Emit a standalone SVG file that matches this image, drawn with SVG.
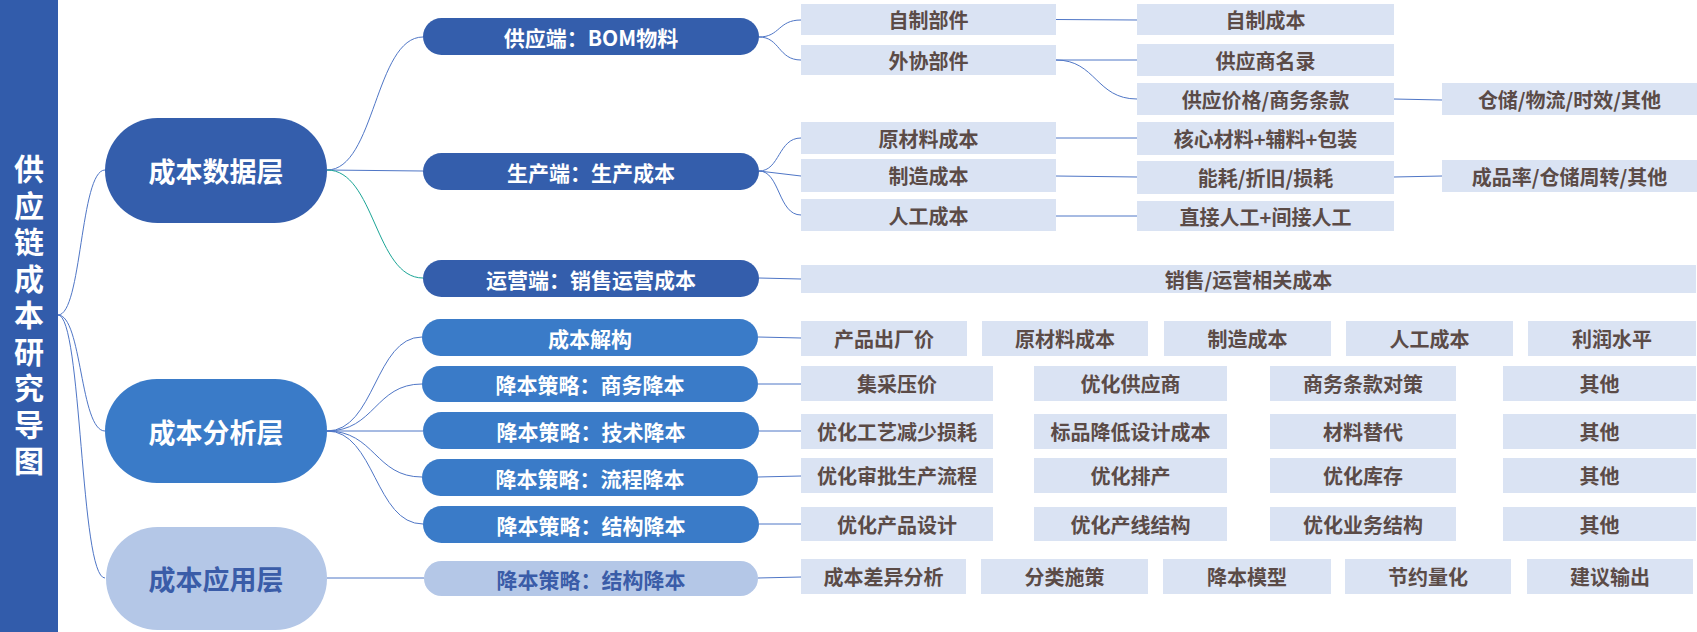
<svg xmlns="http://www.w3.org/2000/svg" width="1697" height="632" viewBox="0 0 1697 632">
<style>
text{font-family:"Noto Sans CJK SC","Noto Sans",sans-serif;font-weight:bold;text-anchor:middle;dominant-baseline:central}
.t{fill:#fff;font-size:30px;writing-mode:vertical-rl;letter-spacing:6.5px}
.l1{fill:#345EAC}.l2{fill:#3A7BC8}.l3{fill:#B4C7E7}
.lt{fill:#fff;font-size:27px}.lt3{fill:#3A5CA8;font-size:27px}
.nt{fill:#fff;font-size:21px}.nt3{fill:#3A5CA8;font-size:21px}
.b{fill:#DAE3F3}
.bt{fill:#5B4B47;font-size:20px}
.c{fill:none;stroke:#4F76C6;stroke-width:1}
.g{fill:none;stroke:#1BA596;stroke-width:1}
</style>
<rect x="0" y="0" width="58" height="632" fill="#325CAB"/>
<g id="title">
<text class="t" x="29" y="318">供应链成本研究导图</text>
</g>
<g id="connectors">
<path class="c" d="M58,315 C82,315 80,170 105,170"/>
<path class="c" d="M58,315 C82,315 80,431 105,431"/>
<path class="c" d="M58,315 C82,315 80,578 105,578"/>
<path class="c" d="M327,170 C375,170 375,37 423,37"/>
<path class="c" d="M327,170 L423,171"/>
<path class="g" d="M327,170 C375,170 375,278 423,278"/>
<path class="c" d="M327,431 C375,431 375,337 422,337"/>
<path class="c" d="M327,431 C375,431 375,384 422,384"/>
<path class="c" d="M327,431 L423,431"/>
<path class="c" d="M327,431 C375,431 375,477 422,477"/>
<path class="c" d="M327,431 C375,431 375,524 423,524"/>
<path class="c" d="M327,578 L424,578"/>
<path class="c" d="M759,37 C780,37 778,20 801,20"/>
<path class="c" d="M759,37 C780,37 778,60 801,60"/>
<path class="c" d="M1056,19.5 L1137,20"/>
<path class="c" d="M1056,60 L1137,60"/>
<path class="c" d="M1056,60 C1096,60 1096,99 1137,99"/>
<path class="c" d="M1394,99 L1442,100"/>
<path class="c" d="M759,171 C780,171 778,138 801,138"/>
<path class="c" d="M759,171 L801,176"/>
<path class="c" d="M759,171 C780,171 778,215 801,215"/>
<path class="c" d="M1056,138 L1137,138"/>
<path class="c" d="M1056,176 L1137,177"/>
<path class="c" d="M1056,216 L1137,216"/>
<path class="c" d="M1394,177 L1442,176"/>
<path class="c" d="M759,278 L801,279"/>
<path class="c" d="M758,337 L801,338"/>
<path class="c" d="M758,384 L801,384"/>
<path class="c" d="M759,431 L801,431"/>
<path class="c" d="M758,477 L801,476"/>
<path class="c" d="M759,524 L801,524"/>
<path class="c" d="M758,578 L801,577"/>
</g>
<g id="layer-data"><rect class="l1" x="105" y="118" width="222" height="105" rx="52.5"/><text class="lt" x="216" y="170">成本数据层</text></g>
<g id="layer-analysis"><rect class="l2" x="105" y="379" width="222" height="104" rx="52"/><text class="lt" x="216" y="431">成本分析层</text></g>
<g id="layer-apply"><rect class="l3" x="106" y="527" width="221" height="103" rx="51.5"/><text class="lt3" x="216" y="578">成本应用层</text></g>

<g id="n-supply"><rect class="l1" x="423" y="18" width="336" height="37" rx="18.5"/><text class="nt" x="591" y="36.5">供应端：BOM物料</text></g>
<g id="n-prod"><rect class="l1" x="423" y="153" width="336" height="37" rx="18.5"/><text class="nt" x="591" y="171.5">生产端：生产成本</text></g>
<g id="n-ops"><rect class="l1" x="423" y="260" width="336" height="37" rx="18.5"/><text class="nt" x="591" y="278.5">运营端：销售运营成本</text></g>
<g id="n-decon"><rect class="l2" x="422" y="319" width="336" height="37" rx="18.5"/><text class="nt" x="590" y="337.5">成本解构</text></g>
<g id="n-biz"><rect class="l2" x="422" y="366" width="336" height="36" rx="18"/><text class="nt" x="590" y="384">降本策略：商务降本</text></g>
<g id="n-tech"><rect class="l2" x="423" y="412" width="336" height="37" rx="18.5"/><text class="nt" x="591" y="430.5">降本策略：技术降本</text></g>
<g id="n-flow"><rect class="l2" x="422" y="459" width="336" height="37" rx="18.5"/><text class="nt" x="590" y="477.5">降本策略：流程降本</text></g>
<g id="n-struct"><rect class="l2" x="423" y="506" width="336" height="37" rx="18.5"/><text class="nt" x="591" y="524.5">降本策略：结构降本</text></g>
<g id="n-apply"><rect class="l3" x="424" y="561" width="334" height="35" rx="17.5"/><text class="nt3" x="591" y="578.5">降本策略：结构降本</text></g>

<g id="b-zizhi"><rect class="b" x="801" y="4" width="255" height="31"/><text class="bt" x="928.5" y="19.5">自制部件</text></g>
<g id="b-zizhicb"><rect class="b" x="1137" y="4" width="257" height="31"/><text class="bt" x="1265.5" y="19.5">自制成本</text></g>
<g id="b-waixie"><rect class="b" x="801" y="45" width="255" height="30"/><text class="bt" x="928.5" y="60">外协部件</text></g>
<g id="b-gys"><rect class="b" x="1137" y="44" width="257" height="32"/><text class="bt" x="1265.5" y="60">供应商名录</text></g>
<g id="b-jiage"><rect class="b" x="1137" y="83" width="257" height="32"/><text class="bt" x="1265.5" y="99">供应价格/商务条款</text></g>
<g id="b-cangchu"><rect class="b" x="1442" y="83" width="255" height="32"/><text class="bt" x="1569.5" y="99">仓储/物流/时效/其他</text></g>
<g id="b-ycl"><rect class="b" x="801" y="122" width="255" height="32"/><text class="bt" x="928.5" y="138">原材料成本</text></g>
<g id="b-hexin"><rect class="b" x="1137" y="122" width="257" height="33"/><text class="bt" x="1265.5" y="138.5">核心材料+辅料+包装</text></g>
<g id="b-zhizao"><rect class="b" x="801" y="159" width="255" height="33"/><text class="bt" x="928.5" y="175.5">制造成本</text></g>
<g id="b-nenghao"><rect class="b" x="1137" y="161" width="257" height="33"/><text class="bt" x="1265.5" y="177.5">能耗/折旧/损耗</text></g>
<g id="b-cpl"><rect class="b" x="1442" y="160" width="255" height="32"/><text class="bt" x="1569.5" y="176">成品率/仓储周转/其他</text></g>
<g id="b-rengong"><rect class="b" x="801" y="199" width="255" height="32"/><text class="bt" x="928.5" y="215">人工成本</text></g>
<g id="b-zhijie"><rect class="b" x="1137" y="201" width="257" height="30"/><text class="bt" x="1265.5" y="216">直接人工+间接人工</text></g>
<g id="b-xiaoshou"><rect class="b" x="801" y="265" width="895" height="28"/><text class="bt" x="1248.5" y="279">销售/运营相关成本</text></g>

<g id="r-decon-1"><rect class="b" x="801" y="321" width="166" height="35"/><text class="bt" x="884" y="338.5">产品出厂价</text></g>
<g id="r-decon-2"><rect class="b" x="982" y="321" width="166" height="35"/><text class="bt" x="1065" y="338.5">原材料成本</text></g>
<g id="r-decon-3"><rect class="b" x="1164" y="321" width="167" height="35"/><text class="bt" x="1247.5" y="338.5">制造成本</text></g>
<g id="r-decon-4"><rect class="b" x="1346" y="321" width="167" height="35"/><text class="bt" x="1429.5" y="338.5">人工成本</text></g>
<g id="r-decon-5"><rect class="b" x="1528" y="321" width="168" height="35"/><text class="bt" x="1612" y="338.5">利润水平</text></g>

<g id="r-biz-1"><rect class="b" x="801" y="366" width="192" height="35"/><text class="bt" x="897" y="383.5">集采压价</text></g>
<g id="r-biz-2"><rect class="b" x="1034" y="366" width="193" height="35"/><text class="bt" x="1130.5" y="383.5">优化供应商</text></g>
<g id="r-biz-3"><rect class="b" x="1270" y="366" width="186" height="35"/><text class="bt" x="1363" y="383.5">商务条款对策</text></g>
<g id="r-biz-4"><rect class="b" x="1503" y="366" width="193" height="35"/><text class="bt" x="1599.5" y="383.5">其他</text></g>

<g id="r-tech-1"><rect class="b" x="801" y="414" width="192" height="35"/><text class="bt" x="897" y="431.5">优化工艺减少损耗</text></g>
<g id="r-tech-2"><rect class="b" x="1034" y="414" width="193" height="35"/><text class="bt" x="1130.5" y="431.5">标品降低设计成本</text></g>
<g id="r-tech-3"><rect class="b" x="1270" y="414" width="186" height="35"/><text class="bt" x="1363" y="431.5">材料替代</text></g>
<g id="r-tech-4"><rect class="b" x="1503" y="414" width="193" height="35"/><text class="bt" x="1599.5" y="431.5">其他</text></g>

<g id="r-flow-1"><rect class="b" x="801" y="458" width="192" height="35"/><text class="bt" x="897" y="475.5">优化审批生产流程</text></g>
<g id="r-flow-2"><rect class="b" x="1034" y="458" width="193" height="35"/><text class="bt" x="1130.5" y="475.5">优化排产</text></g>
<g id="r-flow-3"><rect class="b" x="1270" y="458" width="186" height="35"/><text class="bt" x="1363" y="475.5">优化库存</text></g>
<g id="r-flow-4"><rect class="b" x="1503" y="458" width="193" height="35"/><text class="bt" x="1599.5" y="475.5">其他</text></g>

<g id="r-struct-1"><rect class="b" x="801" y="507" width="192" height="34"/><text class="bt" x="897" y="524">优化产品设计</text></g>
<g id="r-struct-2"><rect class="b" x="1034" y="507" width="193" height="34"/><text class="bt" x="1130.5" y="524">优化产线结构</text></g>
<g id="r-struct-3"><rect class="b" x="1270" y="507" width="186" height="34"/><text class="bt" x="1363" y="524">优化业务结构</text></g>
<g id="r-struct-4"><rect class="b" x="1503" y="507" width="193" height="34"/><text class="bt" x="1599.5" y="524">其他</text></g>

<g id="r-apply-1"><rect class="b" x="801" y="559" width="165" height="35"/><text class="bt" x="883.5" y="576.5">成本差异分析</text></g>
<g id="r-apply-2"><rect class="b" x="981" y="559" width="167" height="35"/><text class="bt" x="1064.5" y="576.5">分类施策</text></g>
<g id="r-apply-3"><rect class="b" x="1163" y="559" width="168" height="35"/><text class="bt" x="1247" y="576.5">降本模型</text></g>
<g id="r-apply-4"><rect class="b" x="1345" y="559" width="166" height="35"/><text class="bt" x="1428" y="576.5">节约量化</text></g>
<g id="r-apply-5"><rect class="b" x="1527" y="559" width="166" height="35"/><text class="bt" x="1610" y="576.5">建议输出</text></g>
</svg>
